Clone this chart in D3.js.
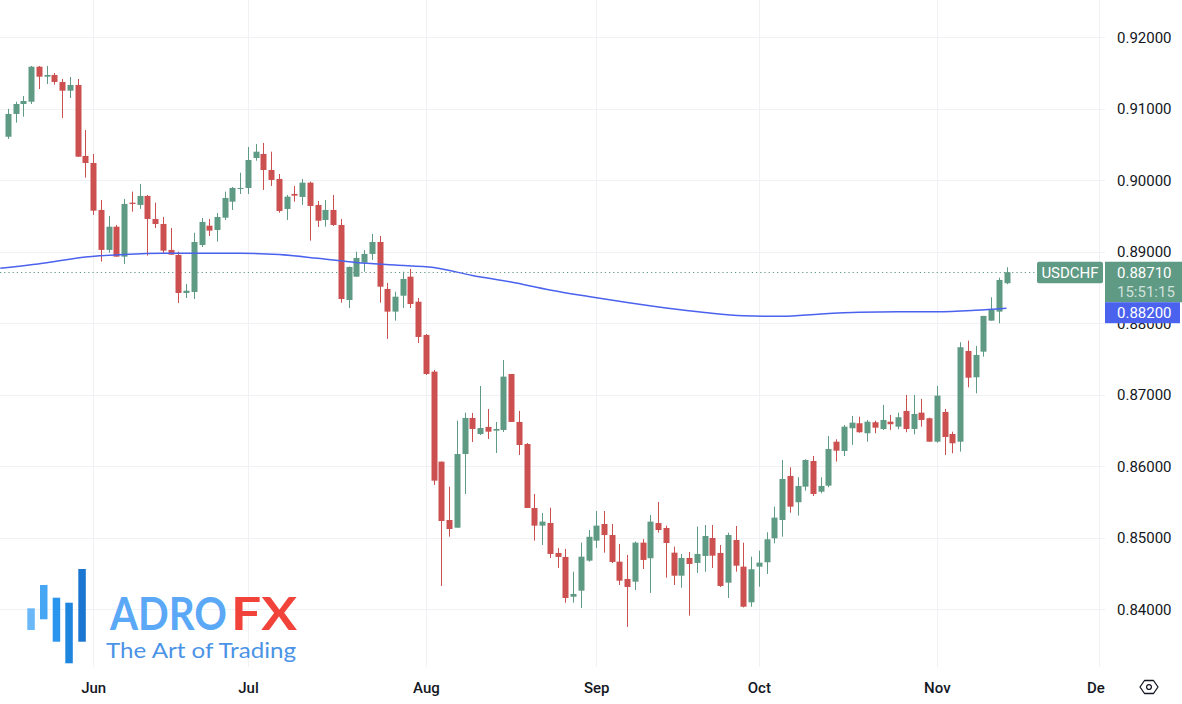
<!DOCTYPE html>
<html><head><meta charset="utf-8">
<script src="https://cdn.jsdelivr.net/npm/d3@7"></script>
<style>html,body{margin:0;padding:0;background:#fff;}svg{display:block;}</style>
</head><body>
<svg id="chart" width="1182" height="704"></svg>
<script>
// ---------- DATA (USDCHF daily, 2024-05-17 .. 2024-11-14) ----------
const symbol = "USDCHF";
const startDate = "2024-05-17";
const opens = [0.90605,0.90924,0.91063,0.91095,0.91585,0.91445,0.91469,0.91371,0.91249,0.91329,
0.90336,0.90238,0.89581,0.89022,0.89347,0.88928,0.89683,0.89651,0.89777,0.89455,
0.89385,0.89022,0.88952,0.88420,0.88434,0.89091,0.89361,0.89301,0.89473,0.89697,
0.89875,0.89889,0.90308,0.90364,0.90140,0.90015,0.89595,0.89805,0.89763,0.89963,
0.89651,0.89441,0.89581,0.89371,0.88322,0.88648,0.88844,0.88966,0.89133,0.88476,
0.88159,0.88382,0.88648,0.88298,0.87833,0.87320,0.86061,0.85245,0.85137,0.86168,
0.86672,0.86448,0.86546,0.86494,0.86504,0.87287,0.86616,0.86308,0.85413,0.85166,
0.85203,0.84784,0.84728,0.84172,0.84256,0.84676,0.84956,0.85189,0.85035,0.84662,
0.84420,0.84382,0.84928,0.84710,0.85203,0.85133,0.84788,0.84466,0.84714,0.84644,
0.84742,0.84993,0.84784,0.84368,0.84965,0.84592,0.84094,0.84592,0.84654,0.84989,
0.85245,0.85861,0.85493,0.85711,0.86070,0.85641,0.85725,0.86340,0.86210,0.86528,
0.86598,0.86458,0.86612,0.86518,0.86620,0.86550,0.86770,0.86518,0.86746,0.86668,
0.86340,0.86756,0.86448,0.86340,0.87609,0.87241,0.87599,0.88033,0.88159,0.88556];
const highs = [0.90994,0.91095,0.91175,0.91595,0.91595,0.91595,0.91497,0.91413,0.91441,0.91413,
0.90700,0.90364,0.89721,0.89497,0.89371,0.89735,0.89837,0.89945,0.89790,0.89683,
0.89483,0.89329,0.88998,0.88546,0.89263,0.89469,0.89455,0.89539,0.89837,0.89903,
0.90102,0.90462,0.90504,0.90518,0.90396,0.90084,0.89791,0.89917,0.90015,0.89977,
0.89707,0.89721,0.89791,0.89455,0.88790,0.88998,0.89022,0.89245,0.89217,0.88560,
0.88438,0.88718,0.88756,0.88350,0.87847,0.87343,0.86061,0.85711,0.86634,0.86746,
0.86742,0.87119,0.86798,0.86616,0.87483,0.87287,0.86770,0.86322,0.85609,0.85343,
0.85417,0.84854,0.84840,0.84522,0.84928,0.85105,0.85371,0.85371,0.85189,0.84910,
0.84756,0.84942,0.84979,0.85315,0.85497,0.85166,0.84872,0.84770,0.84798,0.85152,
0.85175,0.85175,0.84895,0.85068,0.85161,0.84928,0.84732,0.84816,0.85073,0.85431,
0.86084,0.85982,0.85843,0.86094,0.86140,0.85843,0.86420,0.86374,0.86574,0.86700,
0.86690,0.86644,0.86634,0.86854,0.86714,0.86746,0.86994,0.86994,0.86938,0.86676,
0.87120,0.86798,0.86480,0.87731,0.87753,0.87679,0.88099,0.88360,0.88634,0.88780];
const lows = [0.90574,0.90802,0.90886,0.91063,0.91273,0.91343,0.91333,0.90868,0.91147,0.90322,
0.90033,0.89511,0.88858,0.88984,0.88928,0.88826,0.89557,0.89595,0.88942,0.89329,
0.88966,0.88956,0.88280,0.88350,0.88336,0.89064,0.89217,0.89138,0.89441,0.89581,
0.89805,0.89805,0.90270,0.89861,0.89917,0.89543,0.89441,0.89697,0.89651,0.89152,
0.89343,0.89347,0.89357,0.88284,0.88210,0.88648,0.88718,0.88882,0.88284,0.87777,
0.88033,0.88210,0.88210,0.87721,0.87273,0.85735,0.84322,0.85012,0.85137,0.85609,
0.86336,0.86434,0.86378,0.86182,0.86476,0.86616,0.86154,0.85413,0.84956,0.84895,
0.84714,0.84574,0.84088,0.84088,0.84014,0.84662,0.84854,0.84788,0.84644,0.84336,
0.83749,0.84266,0.84560,0.84224,0.85068,0.84438,0.84336,0.84298,0.83907,0.84504,
0.84522,0.84574,0.84308,0.84154,0.84522,0.84022,0.84032,0.84312,0.84490,0.84919,
0.85012,0.85347,0.85306,0.85655,0.85581,0.85619,0.85703,0.86061,0.86140,0.86294,
0.86466,0.86340,0.86458,0.86504,0.86504,0.86514,0.86472,0.86444,0.86550,0.86340,
0.86326,0.86154,0.86178,0.86201,0.87101,0.87017,0.87529,0.88033,0.87995,0.88542];
const closes = [0.90924,0.91063,0.91105,0.91585,0.91445,0.91469,0.91371,0.91249,0.91329,0.90326,
0.90238,0.89571,0.89022,0.89347,0.88928,0.89665,0.89665,0.89777,0.89455,0.89385,
0.89012,0.88956,0.88420,0.88452,0.89133,0.89413,0.89292,0.89483,0.89749,0.89889,
0.89889,0.90280,0.90396,0.90140,0.90001,0.89567,0.89767,0.89781,0.89963,0.89637,
0.89431,0.89581,0.89371,0.88336,0.88784,0.88910,0.88966,0.89133,0.88508,0.88159,
0.88368,0.88616,0.88266,0.87805,0.87287,0.85795,0.85231,0.85119,0.86168,0.86672,
0.86518,0.86532,0.86480,0.86518,0.87250,0.86616,0.86294,0.85413,0.85166,0.85222,
0.84770,0.84728,0.84154,0.84210,0.84732,0.85010,0.85166,0.85035,0.84658,0.84396,
0.84308,0.84928,0.84686,0.85222,0.85105,0.84923,0.84466,0.84714,0.84630,0.84770,
0.85021,0.84746,0.84322,0.85035,0.84606,0.84032,0.84556,0.84648,0.84975,0.85278,
0.85819,0.85431,0.85721,0.86084,0.85609,0.85721,0.86238,0.86214,0.86550,0.86606,
0.86472,0.86620,0.86536,0.86644,0.86584,0.86682,0.86518,0.86728,0.86644,0.86340,
0.86984,0.86406,0.86318,0.87661,0.87235,0.87553,0.88099,0.88182,0.88602,0.88710];
// moving average, read at sampled bar positions
const maBars = [-1,5,10,15,20,25,30,35,40,45,50,55,60,65,70,75,80,85,90,95,100,105,110,115,120,125,129];
const maValues = [0.88765,0.88843,0.88923,0.88958,0.88975,0.88975,0.88975,0.88958,0.88905,0.88846,
0.88811,0.88776,0.88664,0.88573,0.88462,0.88371,0.88287,0.88210,0.88147,0.88102,
0.88094,0.88126,0.88150,0.88158,0.88158,0.88178,0.88206];
const maLast = 0.88200;
const countdown = "15:51:15";
const priceTicks = [0.84,0.85,0.86,0.87,0.88,0.89,0.90,0.91,0.92];
const monthNames = ["Jan","Feb","Mar","Apr","May","Jun","Jul","Aug","Sep","Oct","Nov","Dec"];

// ---------- trading-day calendar ----------
function tradingDays(start, count) {
  const out = []; const d = new Date(start + "T12:00:00Z");
  while (out.length < count) {
    const wd = d.getUTCDay();
    if (wd !== 0 && wd !== 6) out.push(new Date(d));
    d.setUTCDate(d.getUTCDate() + 1);
  }
  return out;
}
const N = closes.length;
const days = tradingDays(startDate, N + 20);
const monthTicks = [];
for (let i = 1; i < days.length; i++) {
  if (days[i].getUTCMonth() !== days[i-1].getUTCMonth()) monthTicks.push(i);
}

// ---------- layout ----------
const W = 1182, H = 704, plotW = 1105, plotH = 667;
const svg = d3.select("#chart");
const x = d3.scaleLinear().domain([0, N - 1]).range([8, 1006.5]);
const y = d3.scaleLinear().domain([0.84, 0.92]).range([609, 37]);

const GREEN = "#5f9a84", RED = "#cc5050", BLUE = "#4a62ee", GRID = "#f0f1f4";
const FONT = "Roboto, 'Open Sans', sans-serif";

svg.append("rect").attr("width", W).attr("height", H).attr("fill", "#fff");
const defs = svg.append("defs");
defs.append("clipPath").attr("id", "plotclip").append("rect").attr("width", plotW).attr("height", plotH);
defs.append("clipPath").attr("id", "timeclip").append("rect").attr("width", plotW).attr("height", H);

const plot = svg.append("g").attr("clip-path", "url(#plotclip)");

// grid
plot.append("g").selectAll("line").data(priceTicks).join("line")
  .attr("x1", 0).attr("x2", plotW).attr("y1", d => Math.round(y(d)) + 0.5).attr("y2", d => Math.round(y(d)) + 0.5)
  .attr("stroke", GRID).attr("stroke-width", 1);
plot.append("g").selectAll("line").data(monthTicks).join("line")
  .attr("x1", d => Math.round(x(d)) + 0.5).attr("x2", d => Math.round(x(d)) + 0.5)
  .attr("y1", 0).attr("y2", plotH).attr("stroke", GRID).attr("stroke-width", 1);

// logo
const logo = svg.append("g");
const logoBars = [
  {x0: 27.3, y0: 608.3, y1: 630, c: "#6ab8f7"},
  {x0: 40, y0: 585, y1: 619.3, c: "#47a6f4"},
  {x0: 52.7, y0: 597.7, y1: 641.7, c: "#2a95ee"},
  {x0: 65.3, y0: 602.7, y1: 663.3, c: "#1f86e0"},
  {x0: 78.3, y0: 569, y1: 641.7, c: "#1a76d0"}
];
logo.selectAll("rect").data(logoBars).join("rect")
  .attr("x", d => d.x0).attr("y", d => d.y0).attr("width", 7.5).attr("height", d => d.y1 - d.y0).attr("fill", d => d.c);
const logoText = logo.append("text").attr("font-family", "Lato, sans-serif");
logoText.append("tspan").attr("x", 110).attr("y", 630).attr("textLength", 117).attr("lengthAdjust", "spacingAndGlyphs")
  .attr("font-weight", 700).attr("font-size", 46).attr("fill", "#5aa8f6").text("ADRO");
logoText.append("tspan").attr("x", 231).attr("y", 630).attr("textLength", 66).attr("lengthAdjust", "spacingAndGlyphs")
  .attr("font-weight", 700).attr("font-size", 46).attr("fill", "#f2433a").text("FX");
logoText.append("tspan").attr("x", 106).attr("y", 658).attr("textLength", 190).attr("lengthAdjust", "spacingAndGlyphs")
  .attr("font-weight", 400).attr("font-size", 22).attr("fill", "#4b93e6").text("The Art of Trading");

// last price dotted line
plot.append("line").attr("x1", 0).attr("x2", 1036).attr("y1", Math.round(y(closes[N-1])) + 0.5).attr("y2", Math.round(y(closes[N-1])) + 0.5)
  .attr("stroke", GREEN).attr("stroke-width", 1.2).attr("stroke-dasharray", "1.2,3");

// candles
const candles = plot.append("g").selectAll("g").data(d3.range(N)).join("g");
candles.append("line")
  .attr("x1", i => Math.round(x(i)) + 0.5).attr("x2", i => Math.round(x(i)) + 0.5)
  .attr("y1", i => y(highs[i])).attr("y2", i => y(lows[i]))
  .attr("stroke", i => closes[i] >= opens[i] ? GREEN : RED).attr("stroke-width", 1);
candles.append("rect")
  .attr("x", i => Math.round(x(i)) - 2.5).attr("width", 6)
  .attr("y", i => y(Math.max(opens[i], closes[i])))
  .attr("height", i => Math.max(1, Math.abs(y(opens[i]) - y(closes[i]))))
  .attr("fill", i => closes[i] >= opens[i] ? GREEN : RED);

// moving average
plot.append("path").datum(maBars.map((b, k) => [b, maValues[k]]))
  .attr("d", d3.line().x(d => x(d[0])).y(d => y(d[1])).curve(d3.curveMonotoneX))
  .attr("fill", "none").attr("stroke", BLUE).attr("stroke-width", 1.5);

// time axis
const tAxis = d3.axisBottom(x).tickValues(monthTicks).tickSize(0).tickPadding(0)
  .tickFormat(i => monthNames[days[i].getUTCMonth()]);
const tg = svg.append("g").attr("clip-path", "url(#timeclip)").append("g").attr("transform", "translate(0,682)").call(tAxis);
tg.select(".domain").remove();
tg.selectAll("text").attr("font-family", FONT).attr("font-size", 15).attr("font-weight", 500).attr("fill", "#131722").attr("dy", "0.35em").attr("y", 6);

// price axis (the 0.88000 label sits under the MA label, as in the reference)
const pAxis = d3.axisRight(y).tickValues(priceTicks).tickSize(0).tickPadding(0).tickFormat(d3.format(".5f"));
const pg = svg.append("g").attr("transform", "translate(1117,0)").call(pAxis);
pg.select(".domain").remove();
pg.selectAll("text").attr("font-family", FONT).attr("font-size", 15).attr("fill", "#131722").attr("x", 0).attr("dy", "0.35em");

// symbol + price labels
const yl = y(closes[N-1]);
svg.append("rect").attr("x", 1037).attr("y", yl - 10.5).attr("width", 66).attr("height", 21.5).attr("rx", 2).attr("fill", GREEN);
svg.append("text").attr("x", 1070).attr("y", yl).attr("dy", "0.36em").attr("text-anchor", "middle")
  .attr("font-family", FONT).attr("font-size", 15).attr("fill", "#fff").text(symbol);
svg.append("rect").attr("x", 1105).attr("y", yl - 10.5).attr("width", 77).attr("height", 40.5).attr("fill", GREEN);
svg.append("text").attr("x", 1117).attr("y", yl).attr("dy", "0.36em")
  .attr("font-family", FONT).attr("font-size", 15).attr("fill", "#fff").text(d3.format(".5f")(closes[N-1]));
svg.append("text").attr("x", 1117).attr("y", yl + 19).attr("dy", "0.36em")
  .attr("font-family", FONT).attr("font-size", 15).attr("fill", "#fff").attr("fill-opacity", 0.72).text(countdown);
svg.append("rect").attr("x", 1105).attr("y", yl + 30).attr("width", 75).attr("height", 21).attr("fill", BLUE);
svg.append("text").attr("x", 1117).attr("y", yl + 40.8).attr("dy", "0.36em")
  .attr("font-family", FONT).attr("font-size", 15).attr("fill", "#fff").text(d3.format(".5f")(maLast));

// settings icon
const ic = svg.append("g").attr("transform", "translate(1149,687)").attr("fill", "none").attr("stroke", "#131722").attr("stroke-width", 1.3);
ic.append("path").attr("d", "M-9,0 L-4.5,-6.5 L4.5,-6.5 L9,0 L4.5,6.5 L-4.5,6.5 Z").attr("stroke-linejoin", "round");
ic.append("circle").attr("r", 2.4);
</script>
</body></html>
